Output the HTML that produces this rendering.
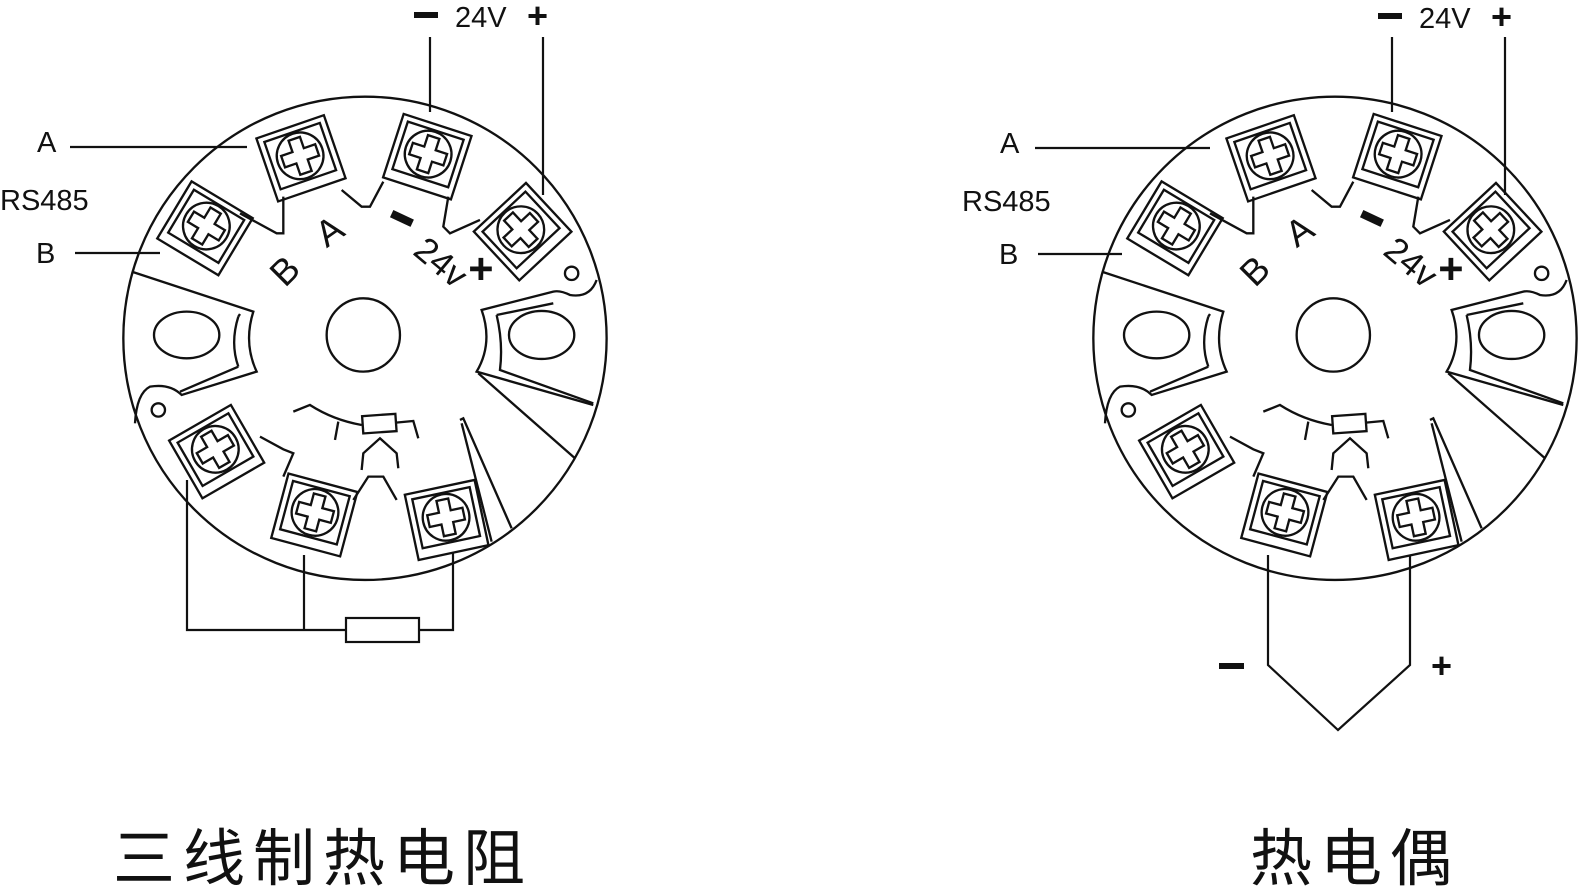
<!DOCTYPE html>
<html><head><meta charset="utf-8"><style>
html,body{margin:0;padding:0;background:#fff;}
svg{display:block;}
.t{font-family:"Liberation Sans",sans-serif;fill:#111;}
.cn{font-family:"Liberation Sans","Noto Sans CJK SC",sans-serif;fill:#111;font-size:62px;letter-spacing:8px;}
</style></head><body>
<svg width="1579" height="895" viewBox="0 0 1579 895" xmlns="http://www.w3.org/2000/svg">
<defs>
<g id="blk" fill="none" stroke="#111" stroke-width="7">
  <rect x="-107" y="-100" width="214" height="200"/>
  <rect x="-88" y="-82" width="176" height="150"/>
  <circle cx="0" cy="-8" r="70"/>
  <path d="M-18,-62 H18 V-26 H54 V10 H18 V46 H-18 V10 H-54 V-26 H-18 Z"/>
</g>
<g id="dev" fill="none" stroke="#111" stroke-width="7">
  <circle cx="735" cy="745" r="725"/>
  <circle cx="730" cy="735" r="110"/>
  <use href="#blk" transform="translate(543,205) rotate(-19)"/>
  <use href="#blk" transform="translate(922,200) rotate(18)"/>
  <use href="#blk" transform="translate(1208,425) rotate(-43)"/>
  <use href="#blk" transform="translate(255,415) rotate(31)"/>
  <use href="#blk" transform="translate(290,1085) rotate(-30)"/>
  <use href="#blk" transform="translate(583,1275) rotate(15)"/>
  <use href="#blk" transform="translate(980,1290) rotate(-12)"/>
  <!-- notches / walls -->
  <path d="M665,300 L725,350 L750,350 L790,275"/>
  <path d="M985,320 L970,410 L990,430 L1080,390"/>
  <path d="M490,320 L490,430 L470,430 L360,370"/>
  <path d="M420,1040 L490,1078 L520,1090 L490,1160"/>
  <path d="M700,1230 L745,1160 L790,1160 L830,1230"/>
  <path d="M1020,990 L1030,985 L1175,1315"/>
  <path d="M1025,1000 L1115,1355"/>
  <!-- left lug -->
  <path d="M35,545 L400,665 Q370,760 410,845 L185,915 Q150,880 90,890 Q50,910 45,1000"/>
  <path d="M355,680 Q330,760 355,830"/>
  <path d="M355,680 L360,672 M355,830 L180,905"/>
  <ellipse cx="200" cy="735" rx="98" ry="70"/>
  <circle cx="115" cy="960" r="20"/>
  <!-- right lug -->
  <path d="M1430,570 Q1410,625 1350,615 Q1320,600 1300,605 L1085,660 Q1120,760 1070,845 L1420,945"/>
  <path d="M1130,675 L1300,640 M1130,675 Q1150,760 1140,840 L1420,940"/>
  <ellipse cx="1265" cy="735" rx="98" ry="72"/>
  <circle cx="1355" cy="550" r="20"/>
  <path d="M1075,850 L1365,1105"/>
  <!-- symbol -->
  <path d="M520,965 L570,945 Q640,990 725,1005"/>
  <path d="M655,995 L645,1050"/>
  <rect x="728" y="975" width="100" height="52" transform="rotate(-4 778 1000)"/>
  <path d="M828,998 L880,993 L895,1045"/>
  <path d="M725,1140 L730,1090 L780,1045 L830,1090 L835,1135"/>
</g>
<g id="lab" class="t">
  <text x="0" y="0" font-size="110" transform="translate(495,595) rotate(-45)">B</text>
  <text x="0" y="0" font-size="110" transform="translate(620,475) rotate(-35)">A</text>
  <rect x="812" y="373" width="68" height="24" fill="#111" transform="rotate(25 845 385)"/>
  <text x="0" y="0" font-size="105" transform="translate(875,490) rotate(40)">24v</text>
  <text x="1045" y="580" font-size="130" font-weight="bold">+</text>
</g>
</defs>

<g transform="translate(120,90) scale(0.3333)"><use href="#dev"/><use href="#lab"/></g>
<g transform="translate(1090,90) scale(0.3333)"><use href="#dev"/><use href="#lab"/></g>

<g stroke="#111" stroke-width="2.2" fill="none">
  <path d="M430,37 V112"/><path d="M543,37 V195"/>
  <path d="M70,147 H247"/><path d="M75,253 H160"/>
  <path d="M187,480 V630 H453 V553"/><path d="M304,555 V630"/>
  <rect x="346" y="618" width="73" height="24" fill="#fff"/>
  <path d="M1392,37 V112"/><path d="M1505,37 V195"/>
  <path d="M1035,148 H1210"/><path d="M1038,254 H1122"/>
  <path d="M1268,555 V665 L1338,730 L1410,665 V555"/>
</g>
<g class="t">
  <rect x="414" y="12" width="24" height="6" fill="#111"/>
  <text x="455" y="27" font-size="29">24V</text>
  <text x="527" y="28" font-size="36" font-weight="bold">+</text>
  <text x="37" y="152" font-size="29">A</text>
  <text x="0" y="210" font-size="29">RS485</text>
  <text x="36" y="263" font-size="29">B</text>
  <rect x="1378" y="13" width="24" height="6" fill="#111"/>
  <text x="1419" y="28" font-size="29">24V</text>
  <text x="1491" y="29" font-size="36" font-weight="bold">+</text>
  <text x="1000" y="153" font-size="29">A</text>
  <text x="962" y="211" font-size="29">RS485</text>
  <text x="999" y="264" font-size="29">B</text>
  <rect x="1219" y="663" width="25" height="6" fill="#111"/>
  <text x="1431" y="678" font-size="36" font-weight="bold">+</text>
  <text class="cn" x="113" y="880">三线制热电阻</text>
  <text class="cn" x="1250" y="880">热电偶</text>
</g>
</svg>
</body></html>
